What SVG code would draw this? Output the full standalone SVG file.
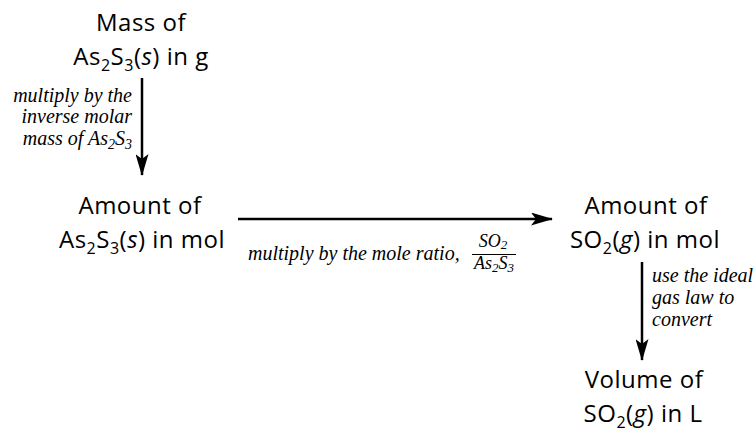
<svg xmlns="http://www.w3.org/2000/svg" width="756" height="432" viewBox="0 0 756 432">
<defs>
<marker id="ah" markerWidth="22" markerHeight="13" refX="21" refY="6.5" orient="auto" markerUnits="userSpaceOnUse">
<path d="M0,0 L22,6.5 L0,13 L5,6.5 Z" fill="#000"/>
</marker>
<style>
.n{font-family:"Open Sans","Noto Sans",sans-serif;font-size:24px;letter-spacing:0.5px;fill:#000;text-anchor:middle}
.s{font-size:16px}
.l{font-family:"Liberation Serif","Times New Roman",serif;font-style:italic;font-size:20px;fill:#000}
.ls{font-size:14px}
.f{font-size:18px}
.fs{font-size:13px}
.c{stroke:#000;stroke-width:2.5;fill:none;marker-end:url(#ah)}
</style>
</defs>
<g id="mass">
<text class="n" x="141" y="31">Mass of</text>
<text class="n" x="141" y="65">As<tspan class="s" dy="6">2</tspan><tspan dy="-6">S</tspan><tspan class="s" dy="6">3</tspan><tspan dy="-6">(</tspan><tspan font-style="italic">s</tspan>) in g</text>
</g>
<g id="amountA">
<text class="n" x="140" y="214">Amount of</text>
<text class="n" x="142" y="248">As<tspan class="s" dy="6">2</tspan><tspan dy="-6">S</tspan><tspan class="s" dy="6">3</tspan><tspan dy="-6">(</tspan><tspan font-style="italic">s</tspan>) in mol</text>
</g>
<g id="amountB">
<text class="n" x="646" y="214">Amount of</text>
<text class="n" x="645" y="248">SO<tspan class="s" dy="6">2</tspan><tspan dy="-6">(</tspan><tspan font-style="italic">g</tspan>) in mol</text>
</g>
<g id="volume">
<text class="n" x="644" y="388">Volume of</text>
<text class="n" x="643" y="422">SO<tspan class="s" dy="6">2</tspan><tspan dy="-6">(</tspan><tspan font-style="italic">g</tspan>) in L</text>
</g>
<g id="connectors">
<line class="c" x1="142" y1="78" x2="142" y2="175"/>
<line class="c" x1="238" y1="219" x2="552" y2="219"/>
<line class="c" x1="642" y1="262" x2="642" y2="360"/>
<g text-anchor="end">
<text class="l" x="132" y="102">multiply by the</text>
<text class="l" x="132" y="123">inverse molar</text>
<text class="l" x="132" y="145">mass of As<tspan class="ls" dy="4">2</tspan><tspan dy="-4">S</tspan><tspan class="ls" dy="4">3</tspan></text>
</g>
<text class="l" x="248" y="260">multiply by the mole ratio,</text>
<text class="l f" x="493" y="247" text-anchor="middle">SO<tspan class="fs" dy="2">2</tspan></text>
<line x1="472" y1="254.5" x2="516" y2="254.5" stroke="#000" stroke-width="1"/>
<text class="l f" x="494" y="269" text-anchor="middle">As<tspan class="fs" dy="3">2</tspan><tspan dy="-3">S</tspan><tspan class="fs" dy="3">3</tspan></text>
<text class="l" x="652" y="282">use the ideal</text>
<text class="l" x="652" y="304">gas law to</text>
<text class="l" x="652" y="326">convert</text>
</g>
</svg>
